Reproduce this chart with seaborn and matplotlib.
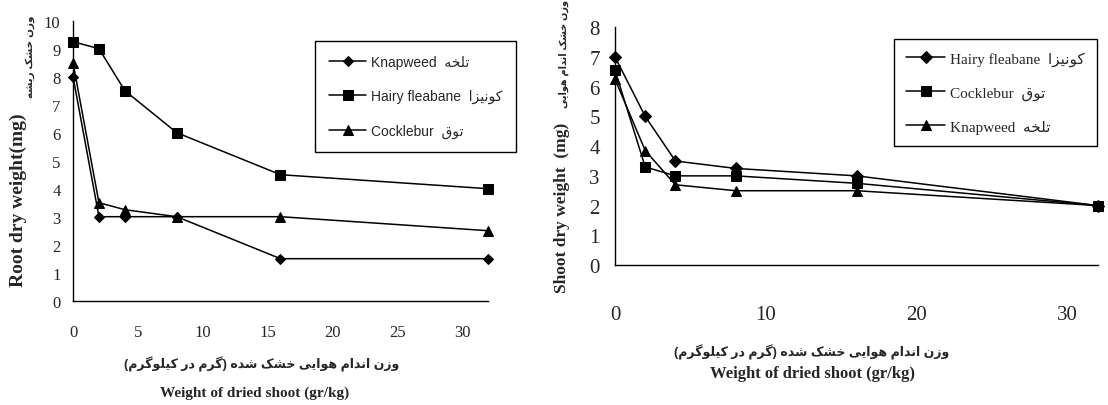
import matplotlib
matplotlib.use('Agg')
import matplotlib.pyplot as plt
import seaborn as sns

# dose of dried shoot (gr/kg)
dose = [0, 2, 4, 8, 16, 32]

# root dry weight (mg)
root_knapweed = [8.0, 3.0, 3.0, 3.0, 1.5, 1.5]
root_fleabane = [9.25, 9.0, 7.5, 6.0, 4.5, 4.0]
root_cocklebur = [8.5, 3.5, 3.25, 3.0, 3.0, 2.5]

# shoot dry weight (mg)
shoot_fleabane = [7.0, 5.0, 3.5, 3.25, 3.0, 2.0]
shoot_cocklebur = [6.55, 3.3, 3.0, 3.0, 2.75, 2.0]
shoot_knapweed = [6.25, 3.85, 2.7, 2.5, 2.5, 2.0]

left_xticks = [0, 5, 10, 15, 20, 25, 30]
right_xticks = [0, 10, 20, 30]

# persian letters -> (isolated, final, initial, medial) presentation forms
FORMS = {
    'ا': ('\uFE8D', '\uFE8E', None, None),
    'ت': ('\uFE95', '\uFE96', '\uFE97', '\uFE98'),
    'خ': ('\uFEA5', '\uFEA6', '\uFEA7', '\uFEA8'),
    'د': ('\uFEA9', '\uFEAA', None, None),
    'ر': ('\uFEAD', '\uFEAE', None, None),
    'ز': ('\uFEAF', '\uFEB0', None, None),
    'ش': ('\uFEB5', '\uFEB6', '\uFEB7', '\uFEB8'),
    'ق': ('\uFED5', '\uFED6', '\uFED7', '\uFED8'),
    'ل': ('\uFEDD', '\uFEDE', '\uFEDF', '\uFEE0'),
    'م': ('\uFEE1', '\uFEE2', '\uFEE3', '\uFEE4'),
    'ن': ('\uFEE5', '\uFEE6', '\uFEE7', '\uFEE8'),
    'ه': ('\uFEE9', '\uFEEA', '\uFEEB', '\uFEEC'),
    'و': ('\uFEED', '\uFEEE', None, None),
    'ی': ('\uFBFC', '\uFBFD', '\uFBFE', '\uFBFF'),
    'ک': ('\uFB8E', '\uFB8F', '\uFB90', '\uFB91'),
    'گ': ('\uFB92', '\uFB93', '\uFB94', '\uFB95'),
}


def fa(s):
    # crude shaping + right-to-left ordering, matplotlib does neither
    out = []
    for i, ch in enumerate(s):
        if ch not in FORMS:
            out.append(ch)
            continue
        iso, fin, ini, med = FORMS[ch]
        prev = s[i - 1] if i > 0 else ''
        nxt = s[i + 1] if i + 1 < len(s) else ''
        jp = prev in FORMS and FORMS[prev][2] is not None
        jn = nxt in FORMS and ini is not None
        if jp and jn:
            out.append(med)
        elif jp:
            out.append(fin)
        elif jn:
            out.append(ini)
        else:
            out.append(iso)
    return ''.join(out)[::-1].translate(str.maketrans('()', ')('))


sns.set_style('white')
SERIF = ['Liberation Serif', 'DejaVu Sans']
SANS = ['Liberation Sans', 'DejaVu Sans']

fig = plt.figure(figsize=(11.08, 4.06), dpi=100)
ax1 = fig.add_axes([0.0659, 0.2569, 0.3745, 0.6897])
ax2 = fig.add_axes([0.5551, 0.3448, 0.4359, 0.5855])

# left panel: root
for y, m, name in [(root_knapweed, 'D', 'Knapweed  ' + fa('تلخه')),
                   (root_fleabane, 's', 'Hairy fleabane  ' + fa('کونیزا')),
                   (root_cocklebur, '^', 'Cocklebur  ' + fa('توق'))]:
    sns.lineplot(x=dose, y=y, marker=m, color='black', linewidth=1.1,
                 markersize=6.5 if m != 'D' else 5.5, markeredgecolor='black',
                 clip_on=False, label=name, ax=ax1)

# right panel: shoot
for y, m, name in [(shoot_fleabane, 'D', 'Hairy fleabane  ' + fa('کونیزا')),
                   (shoot_cocklebur, 's', 'Cocklebur  ' + fa('توق')),
                   (shoot_knapweed, '^', 'Knapweed  ' + fa('تلخه'))]:
    sns.lineplot(x=dose, y=y, marker=m, color='black', linewidth=1.1,
                 markersize=7 if m != 'D' else 6, markeredgecolor='black',
                 clip_on=False, label=name, ax=ax2)

for ax, ymax, xt, fs, xpad, ypad in [(ax1, 10, left_xticks, 12, 14, 6),
                                     (ax2, 8, right_xticks, 15, 26, 8)]:
    ax.set_xlim(0, 32)
    ax.set_ylim(0, ymax)
    ax.set_xticks(xt)
    ax.set_yticks(range(0, ymax + 1))
    for s in ['top', 'right']:
        ax.spines[s].set_visible(False)
    for s in ['left', 'bottom']:
        ax.spines[s].set_color('black')
        ax.spines[s].set_linewidth(1.0)
    ax.tick_params(axis='x', direction='out', length=3, width=1, color='black', pad=xpad)
    ax.tick_params(axis='y', direction='out', length=3, width=1, color='black', pad=ypad)
    for lab in ax.get_xticklabels() + ax.get_yticklabels():
        lab.set_fontfamily(SERIF)
        lab.set_fontsize(fs)
    ax.set_xlabel('')
    ax.set_ylabel('')

leg1 = ax1.legend(loc='upper left', bbox_to_anchor=(315 / 1108, 1 - 42 / 406),
                  bbox_transform=fig.transFigure, borderaxespad=0, frameon=True,
                  fancybox=False, edgecolor='black', framealpha=1, handlelength=2.7,
                  labelspacing=1.45, borderpad=1.0, handletextpad=0.3,
                  prop={'family': SANS, 'size': 10})
leg1.get_frame().set_linewidth(1.0)
leg2 = ax2.legend(loc='upper right', bbox_to_anchor=(1097 / 1108, 1 - 40 / 406),
                  bbox_transform=fig.transFigure, borderaxespad=0, frameon=True,
                  fancybox=False, edgecolor='black', framealpha=1, handlelength=2.6,
                  labelspacing=1.3, borderpad=0.8, handletextpad=0.3,
                  prop={'family': SERIF, 'size': 11})
leg2.get_frame().set_linewidth(1.0)

# axis titles, english + persian
fig.text(18 / 1108, 1 - 200 / 406, 'Root dry weight(mg)', rotation=90,
         ha='center', va='center', fontsize=14, fontweight='bold', family=SERIF)
fig.text(30 / 1108, 1 - 57 / 406, fa('وزن خشک ریشه'), rotation=90,
         ha='center', va='center', fontsize=7.5, fontweight='bold', family=SANS)
fig.text(562 / 1108, 1 - 208 / 406, 'Shoot dry weight  (mg)', rotation=90,
         ha='center', va='center', fontsize=12.5, fontweight='bold', family=SERIF)
fig.text(564 / 1108, 1 - 54 / 406, fa('وزن خشک اندام هوایی'), rotation=90,
         ha='center', va='center', fontsize=7, fontweight='bold', family=SANS)

xl_fa = fa('وزن اندام هوایی خشک شده (گرم در کیلوگرم)')
fig.text(262 / 1108, 1 - 364 / 406, xl_fa, ha='center', va='center',
         fontsize=9, fontweight='bold', family=SANS)
fig.text(255 / 1108, 1 - 393 / 406, 'Weight of dried shoot (gr/kg)', ha='center',
         va='center', fontsize=11, fontweight='bold', family=SERIF)
fig.text(812 / 1108, 1 - 352 / 406, xl_fa, ha='center', va='center',
         fontsize=9, fontweight='bold', family=SANS)
fig.text(812 / 1108, 1 - 374 / 406, 'Weight of dried shoot (gr/kg)', ha='center',
         va='center', fontsize=12, fontweight='bold', family=SERIF)

fig.savefig('out.png', dpi=100)
